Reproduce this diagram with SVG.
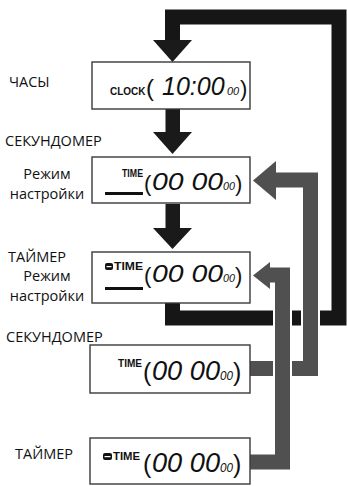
<svg xmlns="http://www.w3.org/2000/svg" width="347" height="486" viewBox="0 0 347 486">
<style>
.box{fill:#fff;stroke:#3a3a3a;stroke-width:1.4}
.lbl{font-family:"Open Sans","Noto Sans",sans-serif;font-size:14.5px;fill:#111}
.disp{font-family:"Liberation Sans",Arial,sans-serif;fill:#111}
.tag{font-weight:bold}
.lcd{font-style:italic}
.blk{fill:none;stroke:#161616;stroke-width:15;stroke-linejoin:miter}
.gry{fill:none;stroke:#505050;stroke-width:15;stroke-linejoin:miter}
.halo{fill:none;stroke:#fff;stroke-width:19;stroke-linejoin:miter}
.ah{fill:#1a1a1a}
.gh{fill:#505050}
</style>

<g id="connectors">
  <path class="blk" d="M172.5 303 V318 H339 V17 H172.5 V41"/>
  <polygon class="ah" points="153,40 192,40 172.5,62"/>
  <rect class="ah" x="165.5" y="109" width="14.5" height="24"/>
  <polygon class="ah" points="153,132 192,132 172.5,154"/>
  <rect class="ah" x="165.5" y="204" width="14.5" height="25"/>
  <polygon class="ah" points="153,228 192,228 172.5,249"/>
  <path class="halo" d="M250 368.5 H310.5 V180 H274"/>
  <path class="gry" d="M250 368.5 H310.5 V180 H274"/>
  <polygon class="gh" points="276,161 276,200 253,180.5"/>
  <path class="halo" d="M250 462 H282.5 V275 H268"/>
  <path class="gry" d="M250 462 H282.5 V275 H268"/>
  <polygon class="gh" points="270,262 270,289 253,275.5"/>
</g>

<g id="clock">
  <rect class="box" x="92" y="62" width="158" height="47"/>
  <text class="disp" y="95"><tspan class="tag" x="110" font-size="10">CLOCK</tspan><tspan x="146" y="96" font-size="24">(</tspan><tspan class="lcd" x="162" y="95" font-size="25">10:00</tspan><tspan class="lcd" x="227" font-size="11">00</tspan><tspan x="240" y="96" font-size="22">)</tspan></text>
</g>

<g id="stopwatch-setting">
  <rect class="box" x="92" y="157" width="158" height="46"/>
  <text class="disp" y="177"><tspan class="tag" x="122" font-size="10" textLength="21" lengthAdjust="spacingAndGlyphs">TIME</tspan><tspan x="144" y="191" font-size="22">(</tspan><tspan class="lcd" x="152" y="190" font-size="24" textLength="71" lengthAdjust="spacingAndGlyphs">00 00</tspan><tspan class="lcd" x="223" font-size="11" textLength="12" lengthAdjust="spacingAndGlyphs">00</tspan><tspan x="235" y="191" font-size="22">)</tspan></text>
  <rect x="105" y="192" width="38" height="3" fill="#111"/>
</g>

<g id="timer-setting">
  <rect class="box" x="92" y="252" width="158" height="51"/>
  <rect x="105" y="263" width="8" height="7" rx="2" fill="#111"/>
  <rect x="106.5" y="266" width="5" height="1.2" fill="#fff"/>
  <text class="disp" y="270"><tspan class="tag" x="114" font-size="10" textLength="29" lengthAdjust="spacingAndGlyphs">TIME</tspan><tspan x="144" y="283" font-size="22">(</tspan><tspan class="lcd" x="152" y="282" font-size="24" textLength="71" lengthAdjust="spacingAndGlyphs">00 00</tspan><tspan class="lcd" x="223" font-size="11" textLength="12" lengthAdjust="spacingAndGlyphs">00</tspan><tspan x="235" y="283" font-size="22">)</tspan></text>
  <rect x="105" y="287" width="38" height="3" fill="#111"/>
</g>

<g id="stopwatch">
  <rect class="box" x="90" y="345" width="160" height="48"/>
  <text class="disp" y="367"><tspan class="tag" x="118" font-size="11" textLength="24" lengthAdjust="spacingAndGlyphs">TIME</tspan><tspan x="143" y="381" font-size="25">(</tspan><tspan class="lcd" x="152" y="380" font-size="27" textLength="68" lengthAdjust="spacingAndGlyphs">00 00</tspan><tspan class="lcd" x="220" font-size="12" textLength="13" lengthAdjust="spacingAndGlyphs">00</tspan><tspan x="233" y="381" font-size="25">)</tspan></text>
</g>

<g id="timer">
  <rect class="box" x="90" y="438" width="160" height="46"/>
  <rect x="103" y="453" width="9" height="7" rx="2" fill="#111"/>
  <rect x="104.5" y="456" width="6" height="1.2" fill="#fff"/>
  <text class="disp" y="460"><tspan class="tag" x="113" font-size="11" textLength="27" lengthAdjust="spacingAndGlyphs">TIME</tspan><tspan x="143" y="473" font-size="25">(</tspan><tspan class="lcd" x="152" y="472" font-size="27" textLength="68" lengthAdjust="spacingAndGlyphs">00 00</tspan><tspan class="lcd" x="220" font-size="12" textLength="13" lengthAdjust="spacingAndGlyphs">00</tspan><tspan x="233" y="473" font-size="25">)</tspan></text>
</g>

<g id="labels">
  <text class="lbl" x="9" y="87">ЧАСЫ</text>
  <text class="lbl" x="5" y="146">СЕКУНДОМЕР</text>
  <text class="lbl" x="47" y="179" text-anchor="middle">Режим</text>
  <text class="lbl" x="47" y="199" text-anchor="middle">настройки</text>
  <text class="lbl" x="8" y="262">ТАЙМЕР</text>
  <text class="lbl" x="47" y="281" text-anchor="middle">Режим</text>
  <text class="lbl" x="47" y="301" text-anchor="middle">настройки</text>
  <text class="lbl" x="6" y="342">СЕКУНДОМЕР</text>
  <text class="lbl" x="15" y="459">ТАЙМЕР</text>
</g>
</svg>
